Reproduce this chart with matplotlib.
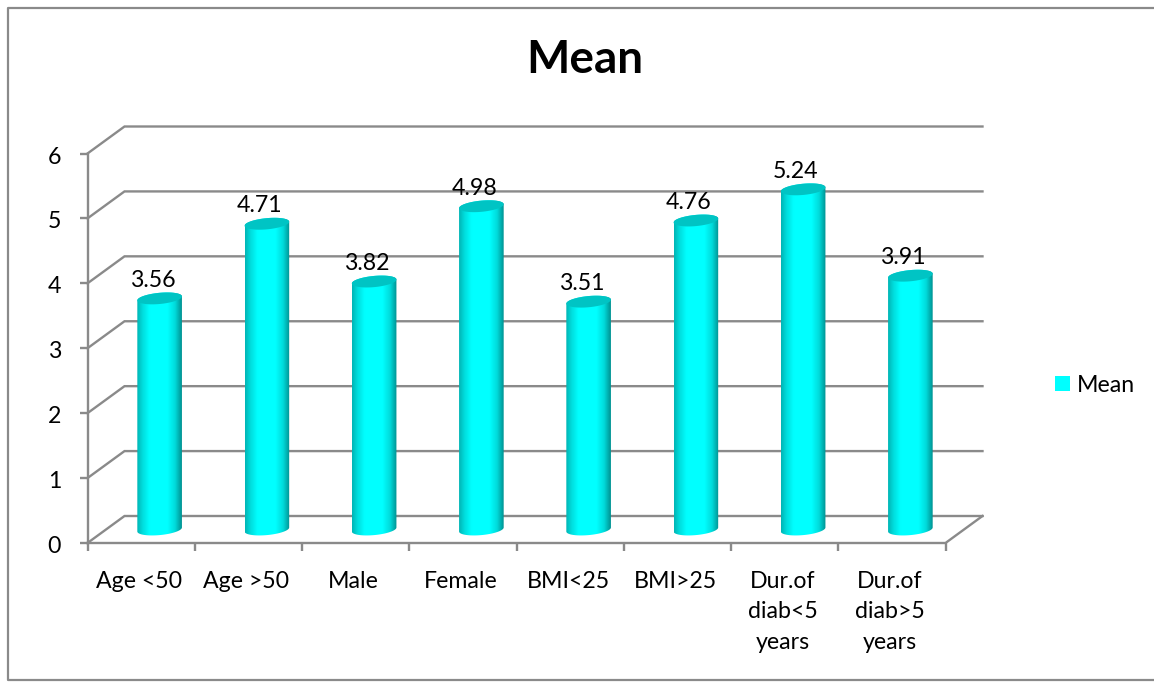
import numpy as np
import matplotlib
matplotlib.use("Agg")
import matplotlib.pyplot as plt
from matplotlib.colors import LinearSegmentedColormap
from matplotlib.lines import Line2D
from matplotlib.patches import PathPatch, Patch
from matplotlib.path import Path
from matplotlib.transforms import ScaledTranslation

categories = ["Age <50", "Age >50", "Male", "Female", "BMI<25", "BMI>25",
              "Dur.of\ndiab<5\nyears", "Dur.of\ndiab>5\nyears"]
values = [3.56, 4.71, 3.82, 4.98, 3.51, 4.76, 5.24, 3.91]
value_ticks = [0, 1, 2, 3, 4, 5, 6]
series_name = "Mean"
title = "Mean"

W, H = 1154, 684
FS = 16.7
plt.rcParams["font.family"] = ["Lato", "DejaVu Sans"]
fig = plt.figure(figsize=(W / 100, H / 100), dpi=100)

# pixel box of the front plane
L, R, T, B = 87.5, 945.5, 153.5, 543.0
ax = fig.add_axes([L / W, 1 - B / H, (R - L) / W, (B - T) / H])
ax.set_xlim(0, len(categories))
ax.set_ylim(0, 6)
for s in ax.spines.values():
    s.set_visible(False)
ax.patch.set_alpha(0)

GC = "#8a8a8a"
LW = 1.7
DX = 37 / ((R - L) / 8)   # depth of the pseudo-3D floor, in x units
DY = 27 / ((B - T) / 6)   # same, in y units
n = len(categories)

for v in value_ticks:
    ax.plot([0, DX, n + DX], [v + 0, v + DY, v + DY], color=GC, lw=LW, clip_on=False, zorder=1,
            solid_joinstyle="miter")
ax.plot([0, n, n + DX], [0, 0, DY], color=GC, lw=LW, clip_on=False, zorder=1)
ax.plot([0, 0], [0, 6], color=GC, lw=LW, clip_on=False, zorder=1)

# cylinders
cmap = LinearSegmentedColormap.from_list("cyl", [
    (0.0, "#00b4b4"), (0.12, "#00dcdc"), (0.28, "#00ffff"), (0.68, "#00ffff"),
    (0.85, "#00dada"), (0.96, "#00a4a4"), (1.0, "#009090")])
grad = np.linspace(0, 1, 256).reshape(1, -1)
bw = 44.6 / ((R - L) / 8)
eh = 5.6 / ((B - T) / 6)
tilt = 2.0 / ((B - T) / 6)
t = np.linspace(0, 2 * np.pi, 121)
for i, v in enumerate(values):
    cx = i + 0.5 + DX / 2
    y0 = DY / 2
    top = y0 + v
    ex = cx + bw / 2 * np.cos(t)
    ey = eh * np.sin(t) + tilt * np.cos(t)
    low = t[(t >= np.pi) & (t <= 2 * np.pi)]
    bx = cx + bw / 2 * np.cos(low)
    by = y0 + eh * np.sin(low) + tilt * np.cos(low)
    hi = t[t <= np.pi]
    tx = cx + bw / 2 * np.cos(hi)
    ty = top + eh * np.sin(hi) + tilt * np.cos(hi)
    px = np.r_[bx, tx]
    py = np.r_[by, ty]
    clip = PathPatch(Path(np.c_[px, py]), transform=ax.transData, fc="none", ec="none")
    ax.add_patch(clip)
    im = ax.imshow(grad, extent=[cx - bw / 2, cx + bw / 2, y0 - eh * 2, top + eh * 2],
                   cmap=cmap, vmin=0, vmax=1, aspect="auto", zorder=3, clip_on=True,
                   interpolation="bilinear")
    im.set_clip_path(clip)
    ax.fill(ex, top + ey, color="#00c4c4", lw=0, zorder=4, clip_on=False)
    ax.annotate(f"{v:.2f}", (cx, top), xytext=(-5.2, 13), textcoords="offset points",
                ha="center", va="center", fontsize=FS, color="black", zorder=5)
ax.set_xlim(0, n)
ax.set_ylim(0, 6)

# axes ticks and labels
ax.set_xticks(np.arange(n + 1))
ax.set_xticklabels([])
ax.tick_params(axis="x", which="major", length=6, width=LW, color=GC, direction="out")
ax.set_xticks(np.arange(n) + 0.5 - 0.02, minor=True)
ax.set_xticklabels(categories, minor=True, fontsize=FS, linespacing=1.56, va="top")
ax.tick_params(axis="x", which="minor", length=0, pad=20, labelcolor="black")
ax.set_yticks(value_ticks)
ax.set_yticklabels([str(v) for v in value_ticks], fontsize=FS)
ax.tick_params(axis="y", length=6, width=LW, color=GC, direction="out", pad=13)
shift = ScaledTranslation(0, -1.5 / 100, fig.dpi_scale_trans)
for lab in ax.get_yticklabels():
    lab.set_transform(lab.get_transform() + shift)

fig.text(585 / W, 1 - 60 / H, title, ha="center", va="center", fontsize=33,
         fontweight="bold", color="black")

leg = fig.legend(handles=[Patch(fc="#00ffff", ec="none", label=series_name)],
                 loc="center left", bbox_to_anchor=(1034.5 / W, 1 - 385 / H),
                 frameon=False, fontsize=FS, handlelength=0.62, handleheight=0.62,
                 handletextpad=0.3)

# chart frame
FC = "#8a8a8a"
def frame(xs, ys):
    fig.add_artist(Line2D(np.array(xs) / W, 1 - np.array(ys) / H, color=FC, lw=1.6,
                          transform=fig.transFigure))
frame([W, 8, 8, W], [7.5, 7.5, 680, 680])

fig.savefig("out.png", dpi=100)
